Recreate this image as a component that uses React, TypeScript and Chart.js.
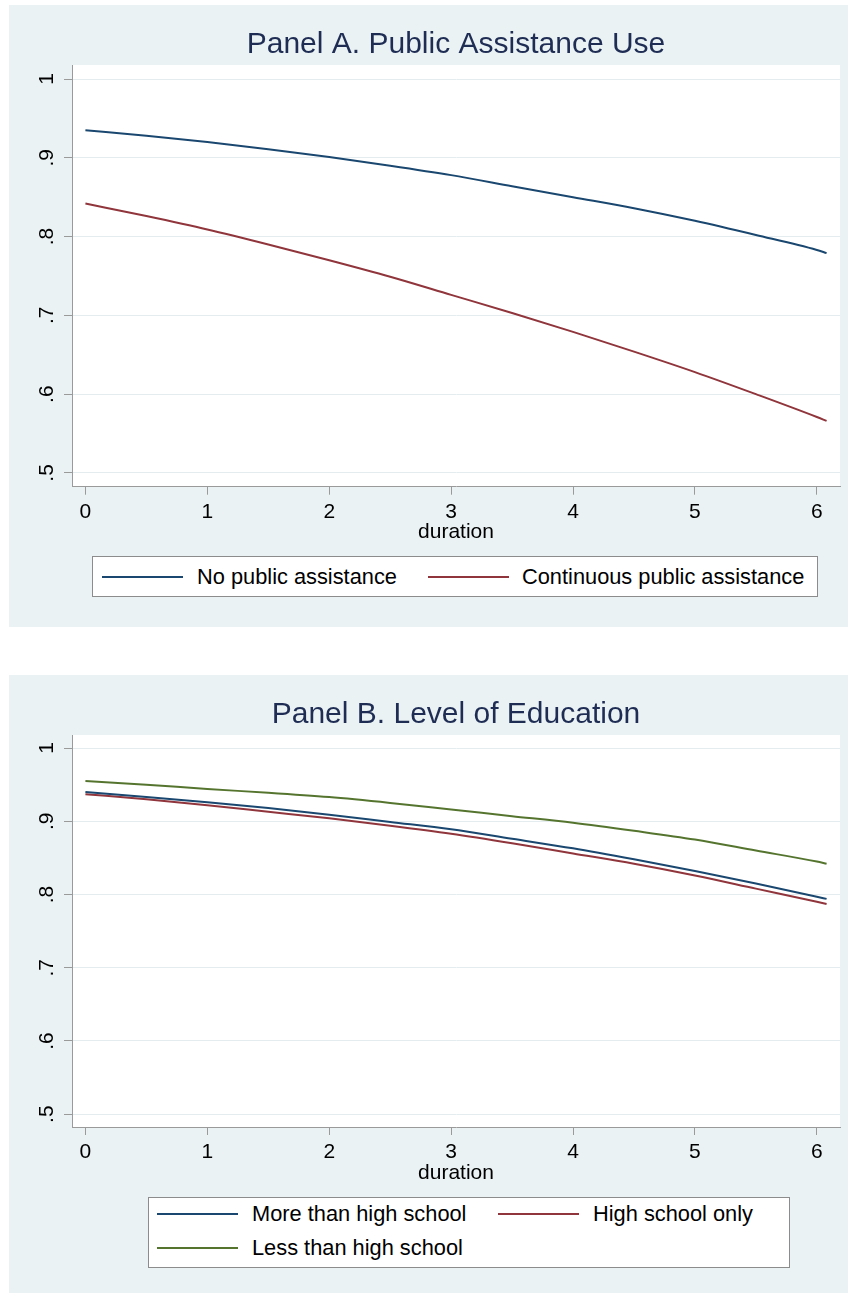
import React, { useEffect, useRef } from "react";
import { Chart, registerables } from "chart.js";

Chart.register(...registerables);

// ---------- data ----------
const durations = [0, 0.5, 1, 1.5, 2, 2.5, 3, 3.5, 4, 4.5, 5, 5.5, 6, 6.08];

// Panel A
const noPublicAssistance = [0.935, 0.928, 0.92, 0.911, 0.901, 0.89, 0.878, 0.864, 0.85, 0.836, 0.82, 0.802, 0.783, 0.779];
const continuousPublicAssistance = [0.842, 0.826, 0.809, 0.79, 0.77, 0.749, 0.726, 0.703, 0.679, 0.654, 0.628, 0.6, 0.571, 0.566];

// Panel B
const moreThanHighSchool = [0.94, 0.933, 0.926, 0.918, 0.909, 0.899, 0.889, 0.876, 0.863, 0.848, 0.832, 0.815, 0.797, 0.794];
const highSchoolOnly = [0.937, 0.93, 0.922, 0.913, 0.904, 0.894, 0.883, 0.87, 0.856, 0.842, 0.826, 0.808, 0.79, 0.787];
const lessThanHighSchool = [0.955, 0.95, 0.944, 0.939, 0.933, 0.925, 0.916, 0.907, 0.898, 0.887, 0.875, 0.86, 0.845, 0.842];

const xTicks = [0, 1, 2, 3, 4, 5, 6];
const yTicks = [0.5, 0.6, 0.7, 0.8, 0.9, 1];
const yTickLabels = [".5", ".6", ".7", ".8", ".9", "1"];

const titleA = "Panel A. Public Assistance Use";
const titleB = "Panel B. Level of Education";
const xAxisTitle = "duration";

// ---------- styles ----------
const NAVY = "#1a476f";
const MAROON = "#90353b";
const GREEN = "#55752f";
const PANEL_BG = "#eaf2f3";
const GRID = "#e4ecef";
const AXIS = "#9a9a9a";
const TITLE_COLOR = "#1f2d55";
const FONT = '"Liberation Sans", Arial, Helvetica, sans-serif';

type Series = { label: string; values: number[]; color: string };

const seriesA: Series[] = [
  { label: "No public assistance", values: noPublicAssistance, color: NAVY },
  { label: "Continuous public assistance", values: continuousPublicAssistance, color: MAROON },
];
const seriesB: Series[] = [
  { label: "More than high school", values: moreThanHighSchool, color: NAVY },
  { label: "High school only", values: highSchoolOnly, color: MAROON },
  { label: "Less than high school", values: lessThanHighSchool, color: GREEN },
];

const whitePlotArea = {
  id: "whitePlotArea",
  beforeDraw(chart: any) {
    const { ctx, chartArea } = chart;
    if (!chartArea) return;
    ctx.save();
    ctx.fillStyle = "#ffffff";
    ctx.fillRect(chartArea.left, chartArea.top, chartArea.right - chartArea.left, chartArea.bottom - chartArea.top);
    ctx.restore();
  },
};

function makeConfig(title: string, series: Series[], padBottom: number): any {
  return {
    type: "line",
    data: {
      datasets: series.map((s) => ({
        label: s.label,
        data: durations.map((d, i) => ({ x: d, y: s.values[i] })),
        borderColor: s.color,
        backgroundColor: s.color,
        borderWidth: 2,
        pointRadius: 0,
        cubicInterpolationMode: "monotone",
        fill: false,
      })),
    },
    options: {
      animation: false,
      responsive: false,
      events: [],
      layout: { padding: { top: 0, left: 0, right: 8, bottom: padBottom } },
      plugins: {
        legend: { display: false },
        tooltip: { enabled: false },
        title: {
          display: true,
          text: title,
          fullSize: false,
          color: TITLE_COLOR,
          font: { family: FONT, size: 30, weight: "normal", lineHeight: 1.2 },
          padding: { top: 22, bottom: 2 },
        },
      },
      scales: {
        x: {
          type: "linear",
          min: -0.11,
          max: 6.19,
          afterBuildTicks: (s: any) => {
            s.ticks = xTicks.map((v) => ({ value: v }));
          },
          afterFit: (s: any) => {
            s.height = 58.6;
          },
          grid: { drawOnChartArea: false, drawTicks: true, tickLength: 8, tickColor: AXIS, tickWidth: 1 },
          border: { color: AXIS, width: 1 },
          ticks: {
            color: "#000",
            font: { family: FONT, size: 21 },
            padding: 5,
            maxRotation: 0,
            minRotation: 0,
            autoSkip: false,
            callback: (v: number) => String(v),
          },
          title: {
            display: true,
            text: xAxisTitle,
            color: "#000",
            font: { family: FONT, size: 21 },
            padding: { top: 0, bottom: 0 },
          },
        },
        y: {
          type: "linear",
          min: 0.4825,
          max: 1.0178,
          afterBuildTicks: (s: any) => {
            s.ticks = yTicks.map((v) => ({ value: v }));
          },
          afterFit: (s: any) => {
            s.width = 63;
          },
          grid: { color: GRID, lineWidth: 1, drawTicks: true, tickLength: 8, tickColor: AXIS, tickWidth: 1 },
          border: { color: AXIS, width: 1 },
          ticks: {
            color: "#000",
            font: { family: FONT, size: 21 },
            padding: 8,
            minRotation: 90,
            maxRotation: 90,
            crossAlign: "center",
            autoSkip: false,
            callback: (v: number) => {
              const i = yTicks.findIndex((t) => Math.abs(t - v) < 1e-9);
              return i >= 0 ? yTickLabels[i] : "";
            },
          },
        },
      },
    },
    plugins: [whitePlotArea],
  };
}

type LegendItemPos = { row: number; lineLeft: number; textLeft: number };

function Legend({
  series,
  box,
  positions,
  rowCenters,
}: {
  series: Series[];
  box: { left: number; top: number; width: number; height: number };
  positions: LegendItemPos[];
  rowCenters: number[];
}) {
  return (
    <div
      style={{
        position: "absolute",
        left: box.left,
        top: box.top,
        width: box.width,
        height: box.height,
        boxSizing: "border-box",
        background: "#ffffff",
        border: "1px solid #8c8c8c",
      }}
    >
      {series.map((s, i) => {
        const p = positions[i];
        const cy = rowCenters[p.row];
        return (
          <React.Fragment key={s.label}>
            <div
              style={{
                position: "absolute",
                left: p.lineLeft,
                top: cy - 1,
                width: 81,
                height: 2,
                background: s.color,
              }}
            />
            <span
              style={{
                position: "absolute",
                left: p.textLeft,
                top: cy - 14,
                height: 28,
                lineHeight: "28px",
                fontFamily: FONT,
                fontSize: 21.8,
                color: "#000",
                whiteSpace: "nowrap",
              }}
            >
              {s.label}
            </span>
          </React.Fragment>
        );
      })}
    </div>
  );
}

function Panel({
  top,
  height,
  title,
  series,
  padBottom,
  legendBox,
  legendPositions,
  rowCenters,
}: {
  top: number;
  height: number;
  title: string;
  series: Series[];
  padBottom: number;
  legendBox: { left: number; top: number; width: number; height: number };
  legendPositions: LegendItemPos[];
  rowCenters: number[];
}) {
  const ref = useRef<HTMLCanvasElement | null>(null);
  useEffect(() => {
    if (!ref.current) return;
    const chart = new Chart(ref.current, makeConfig(title, series, padBottom));
    return () => chart.destroy();
  }, []);
  return (
    <div
      style={{
        position: "absolute",
        left: 9,
        top,
        width: 839,
        height,
        background: PANEL_BG,
      }}
    >
      <canvas ref={ref} width={839} height={height} style={{ display: "block", width: 839, height }} />
      <Legend series={series} box={legendBox} positions={legendPositions} rowCenters={rowCenters} />
    </div>
  );
}

export default function App() {
  return (
    <div style={{ position: "absolute", left: 0, top: 0, width: 848, height: 1293, background: "#ffffff", overflow: "hidden" }}>
      <Panel
        top={5}
        height={622}
        title={titleA}
        series={seriesA}
        padBottom={81.7}
        legendBox={{ left: 83, top: 551, width: 726, height: 41 }}
        legendPositions={[
          { row: 0, lineLeft: 9, textLeft: 104 },
          { row: 0, lineLeft: 335, textLeft: 429 },
        ]}
        rowCenters={[19.5]}
      />
      <Panel
        top={675}
        height={618}
        title={titleB}
        series={seriesB}
        padBottom={107.4}
        legendBox={{ left: 139, top: 522, width: 642, height: 71 }}
        legendPositions={[
          { row: 0, lineLeft: 8, textLeft: 103 },
          { row: 0, lineLeft: 349, textLeft: 444 },
          { row: 1, lineLeft: 8, textLeft: 103 },
        ]}
        rowCenters={[15.5, 49.5]}
      />
    </div>
  );
}
